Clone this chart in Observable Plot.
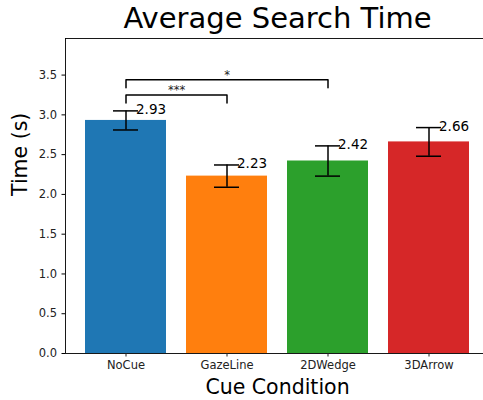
<!DOCTYPE html>
<html>
<head>
<meta charset="utf-8">
<script src="https://cdn.jsdelivr.net/npm/d3@7"></script>
<script src="https://cdn.jsdelivr.net/npm/@observablehq/plot@0.6"></script>
<style>
  html, body { margin: 0; padding: 0; background: #fff; }
  svg { font-family: "DejaVu Sans", sans-serif; }
</style>
</head>
<body>
<div id="chart"></div>
<script>
const categories = ["NoCue", "GazeLine", "2DWedge", "3DArrow"];
const means = [2.93, 2.23, 2.42, 2.66];
const errors = [0.12, 0.14, 0.19, 0.18];
const colors = ["#1f77b4", "#ff7f0e", "#2ca02c", "#d62728"];
const yTicks = [0, 0.5, 1.0, 1.5, 2.0, 2.5, 3.0, 3.5];
const bracketFrom = ["NoCue", "NoCue"];
const bracketTo = ["GazeLine", "2DWedge"];
const bracketY = [3.25, 3.44];
const bracketLabels = ["***", "*"];
const bracketLabelAt = ["NoCue", "GazeLine"];
const bracketLabelShift = [0.5, 0]; // in band steps

const yMax = 3.96;
const legLen = 0.1;

const rows = categories.map((c, i) => ({
  cat: c, mean: means[i], err: errors[i],
  lo: means[i] - errors[i], hi: means[i] + errors[i],
  label: means[i].toFixed(2)
}));

const bracketPaths = bracketFrom.map((f, i) => [
  {k: i, x: f, y: bracketY[i] - legLen},
  {k: i, x: f, y: bracketY[i]},
  {k: i, x: bracketTo[i], y: bracketY[i]},
  {k: i, x: bracketTo[i], y: bracketY[i] - legLen}
]).flat();

const step = 101;
const bracketText = bracketLabels.map((t, i) => ({
  x: bracketLabelAt[i], y: bracketY[i], t, dx: bracketLabelShift[i] * step
}));

const plot = Plot.plot({
  width: 483,
  height: 400,
  marginTop: 38,
  marginBottom: 47,
  marginLeft: 65,
  marginRight: -6,
  style: {fontFamily: "DejaVu Sans, sans-serif", background: "#fff"},
  x: {domain: categories, paddingInner: 0.2, paddingOuter: 0.198, axis: null},
  y: {domain: [0, yMax], axis: null},
  color: {domain: categories, range: colors},
  marks: [
    Plot.barY(rows, {x: "cat", y: "mean", fill: "cat"}),
    Plot.ruleX(rows, {x: "cat", y1: "lo", y2: "hi", stroke: "#000", strokeWidth: 1.5}),
    Plot.tickY(rows, {x: "cat", y: "lo", stroke: "#000", strokeWidth: 1.5, insetLeft: 28, insetRight: 28}),
    Plot.tickY(rows, {x: "cat", y: "hi", stroke: "#000", strokeWidth: 1.5, insetLeft: 28, insetRight: 28}),
    Plot.text(rows, {x: "cat", y: "hi", text: "label", textAnchor: "start", dx: 10, dy: -1, fontSize: 13.5, fill: "#000"}),
    Plot.line(bracketPaths, {x: "x", y: "y", z: "k", stroke: "#000", strokeWidth: 1.5}),
    ...bracketText.map(d => Plot.text([d], {x: "x", y: "y", text: "t", dx: d.dx, dy: -1, lineAnchor: "bottom", fontSize: 11.5, fill: "#222"})),
    Plot.frame({stroke: "#000", strokeWidth: 0.9}),
    Plot.axisY({ticks: yTicks, tickFormat: d3.format(".1f"), tickSize: 3.5, tickPadding: 5, fontSize: 11.5, label: null, stroke: "#000", color: "#222"}),
    Plot.axisX({tickSize: 3.5, tickPadding: 4, fontSize: 11.5, label: null, color: "#222"}),
    Plot.text(["Average Search Time"], {frameAnchor: "top", dy: -20, fontSize: 29, fill: "#000", lineAnchor: "middle"}),
    Plot.text(["Cue Condition"], {frameAnchor: "bottom", dy: 34, fontSize: 20.5, fill: "#000", lineAnchor: "middle"}),
    Plot.text(["Time (s)"], {frameAnchor: "left", dx: -45, rotate: -90, fontSize: 20.5, fill: "#000", lineAnchor: "middle"})
  ]
});
document.getElementById("chart").appendChild(plot);
</script>
</body>
</html>
